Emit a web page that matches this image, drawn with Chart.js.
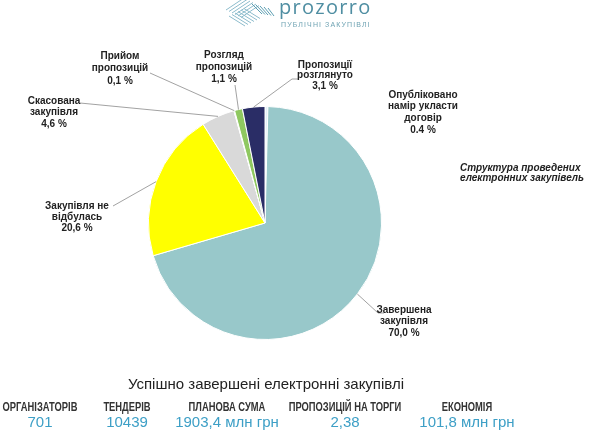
<!DOCTYPE html>
<html>
<head>
<meta charset="utf-8">
<script src="https://cdn.jsdelivr.net/npm/chart.js@4"></script>
<style>
  body { margin: 0; background: #fff; }
  #wrap { position: relative; width: 600px; height: 433px; overflow: hidden; font-family: "Liberation Sans", Arial, sans-serif; }
  #pie { position: absolute; left: 0; top: 0; }
  .abs { position: absolute; white-space: nowrap; }
  #logo { left: 279px; top: -3px; font-family: "Open Sans", sans-serif; font-size: 20px; line-height: 20px; color: #4f8ea2; letter-spacing: 1.3px; }
  #logo2 { left: 281px; top: 21px; font-size: 7px; color: #6fa3b3; letter-spacing: 1.1px; }
  #struct { left: 460px; top: 163px; width: 120px; text-align: center; font-size: 10px; font-weight: bold; font-style: italic; line-height: 10px; color: #222; }
  #title { left: 0; width: 532px; top: 375px; text-align: center; font-size: 15px; color: #222; }
  .hd { top: 400px; font-weight: bold; font-size: 12px; color: #333; transform: translateX(-50%) scaleX(0.78); }
  .val { top: 413px; font-size: 15px; color: #3d9fc6; transform: translateX(-50%); }
</style>
</head>
<body>
<div id="wrap">
  <canvas id="pie" width="600" height="433"></canvas>
  <div class="abs" id="logo">prozorro</div>
  <div class="abs" id="logo2">ПУБЛІЧНІ ЗАКУПІВЛІ</div>
  <div class="abs" id="struct">Структура проведених<br>електронних закупівель</div>
  <div class="abs" id="title">Успішно завершені електронні закупівлі</div>
</div>
<script>
// категорії та частки (%)
const categories = ['Опубліковано\nнамір укласти\nдоговір', 'Завершена\nзакупівля', 'Закупівля не\nвідбулась',
  'Скасована\nзакупівля', 'Прийом\nпропозицій', 'Розгляд\nпропозицій', 'Пропозиції\nрозглянуто'];
const shares = [0.4, 70.0, 20.6, 4.6, 0.1, 1.1, 3.1];
const shareLabels = ['0.4 %', '70,0 %', '20,6 %', '4,6 %', '0,1 %', '1,1 %', '3,1 %'];
const colors = ['#e3f0fa', '#98c8ca', '#ffff00', '#d9d9d9', '#eeeeee', '#8fc860', '#2a2d66'];

// показники внизу
const statNames = ['ОРГАНІЗАТОРІВ', 'ТЕНДЕРІВ', 'ПЛАНОВА СУМА', 'ПРОПОЗИЦІЙ НА ТОРГИ', 'ЕКОНОМІЯ'];
const statValues = ['701', '10439', '1903,4 млн грн', '2,38', '101,8 млн грн'];
const statX = [40, 127, 227, 345, 467];

const wrap = document.getElementById('wrap');
for (let i = 0; i < statNames.length; i++) {
  const h = document.createElement('div');
  h.className = 'abs hd';
  h.style.left = statX[i] + 'px';
  h.textContent = statNames[i];
  wrap.appendChild(h);
  const v = document.createElement('div');
  v.className = 'abs val';
  v.style.left = statX[i] + 'px';
  v.textContent = statValues[i];
  wrap.appendChild(v);
}

// де стоять підписи: центр тексту, y першого рядка, крок, кінець виноски
const labelPos = [
  { x: 423, y: 95, step: 11.7, lead: null },
  { x: 404, y: 310, step: 11.5, lead: [[378, 313], [384, 313]] },
  { x: 77, y: 206, step: 11, lead: [[113, 206]] },
  { x: 54, y: 101, step: 11.5, lead: [[80, 103]] },
  { x: 120, y: 56, step: 12.5, lead: [[150, 73]] },
  { x: 224, y: 55, step: 12, lead: [[235, 85]] },
  { x: 325, y: 65, step: 10.5, lead: [[292, 79], [298, 79]] }
];

const pieLabels = {
  id: 'pieLabels',
  afterDraw(chart) {
    const ctx = chart.ctx;
    const arcs = chart.getDatasetMeta(0).data;
    ctx.save();
    // логотип
    ctx.strokeStyle = '#8dbccc';
    ctx.lineWidth = 1;
    for (let k = 0; k < 6; k++) {
      ctx.beginPath();
      ctx.moveTo(226 + k * 3, 10 + k * 1.5);
      ctx.lineTo(244 + k * 3, -2 + k * 1.5);
      ctx.stroke();
      ctx.beginPath();
      ctx.moveTo(245 + k * 3, 26 - k * 1.5);
      ctx.lineTo(229 + k * 3, 16 - k * 1.5);
      ctx.stroke();
    }
    ctx.strokeStyle = '#5b9db1';
    for (let k = 0; k < 5; k++) {
      ctx.beginPath();
      ctx.moveTo(252 + k * 4, 4 + k);
      ctx.lineTo(262 + k * 3, 14 + k * 0.5);
      ctx.stroke();
    }
    // виноски та підписи
    ctx.strokeStyle = '#8a8a8a';
    ctx.lineWidth = 0.8;
    ctx.fillStyle = '#222';
    ctx.font = 'bold 10px "Liberation Sans", Arial, sans-serif';
    ctx.textAlign = 'center';
    ctx.textBaseline = 'middle';
    arcs.forEach((arc, i) => {
      const p = labelPos[i];
      if (p.lead) {
        const mid = (arc.startAngle + arc.endAngle) / 2;
        ctx.beginPath();
        ctx.moveTo(arc.x + Math.cos(mid) * arc.outerRadius, arc.y + Math.sin(mid) * arc.outerRadius);
        p.lead.forEach(pt => ctx.lineTo(pt[0], pt[1]));
        ctx.stroke();
      }
      const lines = categories[i].split('\n').concat(shareLabels[i]);
      lines.forEach((t, j) => ctx.fillText(t, p.x, p.y + j * p.step));
    });
    ctx.restore();
  }
};

new Chart(document.getElementById('pie'), {
  type: 'pie',
  data: {
    labels: categories,
    datasets: [{
      data: shares,
      backgroundColor: colors,
      borderColor: '#ffffff',
      borderWidth: 1
    }]
  },
  options: {
    responsive: false,
    animation: false,
    layout: { padding: { left: 148, right: 218, top: 106, bottom: 93 } },
    plugins: { legend: { display: false }, tooltip: { enabled: false } }
  },
  plugins: [pieLabels]
});
</script>
</body>
</html>
